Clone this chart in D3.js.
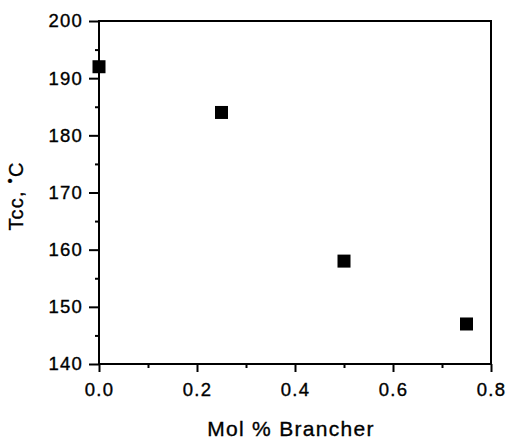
<!DOCTYPE html>
<html>
<head>
<meta charset="utf-8">
<script src="https://cdn.jsdelivr.net/npm/d3@7"></script>
<style>
  body { margin: 0; background: #fff; }
  svg { display: block; font-family: "Liberation Sans", Arial, sans-serif; }
  text { stroke: #000; stroke-width: 0.35px; }
</style>
</head>
<body>
<div id="chart"></div>
<script>
// data
const brancher = [0.0, 0.25, 0.5, 0.75];
const tcc = [192, 184, 158, 147];

const xTicks = [0.0, 0.2, 0.4, 0.6, 0.8];
const xMinor = [0.1, 0.3, 0.5, 0.7];
const yTicks = [140, 150, 160, 170, 180, 190, 200];
const yMinor = [145, 155, 165, 175, 185, 195];

const margin = { top: 21, right: 16, bottom: 76, left: 99 };
const width = 507 - margin.left - margin.right;
const height = 440 - margin.top - margin.bottom;

const svg = d3.select("#chart")
  .append("svg")
  .attr("width", 507)
  .attr("height", 440)
  .append("g")
  .attr("transform", `translate(${margin.left},${margin.top})`);

const x = d3.scaleLinear().domain([0, 0.8]).range([0, width]);
const y = d3.scaleLinear().domain([140, 200]).range([height, 0]);

// minor ticks
svg.append("g")
  .attr("transform", `translate(0,${height})`)
  .call(d3.axisBottom(x).tickValues(xMinor).tickSize(4).tickFormat(""))
  .call(g => g.select(".domain").remove());

svg.append("g")
  .call(d3.axisLeft(y).tickValues(yMinor).tickSize(4).tickFormat(""))
  .call(g => g.select(".domain").remove());

// major ticks
const xAxis = svg.append("g")
  .attr("transform", `translate(0,${height})`)
  .call(d3.axisBottom(x).tickValues(xTicks).tickSize(8).tickPadding(11)
    .tickFormat(d3.format(".1f")));

const yAxis = svg.append("g")
  .call(d3.axisLeft(y).tickValues(yTicks).tickSize(10).tickPadding(6));

[xAxis, yAxis].forEach(a => {
  a.select(".domain").remove();
  a.selectAll("text")
    .attr("fill", "#000")
    .style("font-size", "18.5px")
    .style("letter-spacing", "1.2px");
});

svg.selectAll(".tick line")
  .attr("stroke", "#000")
  .attr("stroke-width", 2);

// frame
svg.append("rect")
  .attr("width", width)
  .attr("height", height)
  .attr("fill", "none")
  .attr("stroke", "#000")
  .attr("stroke-width", 2);

// points
const sz = 13;
svg.selectAll(".pt")
  .data(brancher.map((b, i) => ({ b, t: tcc[i] })))
  .enter()
  .append("rect")
  .attr("class", "pt")
  .attr("x", d => x(d.b) - sz / 2)
  .attr("y", d => y(d.t) - sz / 2)
  .attr("width", sz)
  .attr("height", sz)
  .attr("fill", "#000");

// axis titles
svg.append("text")
  .attr("x", width / 2 - 4)
  .attr("y", height + 72)
  .attr("text-anchor", "middle")
  .style("font-size", "21px")
  .style("letter-spacing", "1.3px")
  .text("Mol % Brancher");

const yl = svg.append("text")
  .attr("transform", `translate(${-76},${175}) rotate(-90)`)
  .attr("text-anchor", "middle")
  .style("font-size", "20px")
  .style("letter-spacing", "1.2px");
yl.append("tspan").text("Tcc, ");
yl.append("tspan").attr("dy", -8).style("font-size", "15px").text("•");
yl.append("tspan").attr("dy", 8).text("C");
</script>
</body>
</html>
